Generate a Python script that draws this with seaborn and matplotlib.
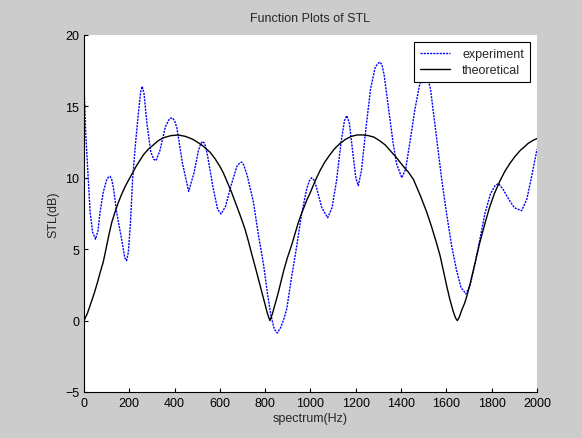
import numpy as np
import pandas as pd
import matplotlib
matplotlib.use("Agg")
import matplotlib.pyplot as plt
import seaborn as sns

# values
exp_freq = [0, 8, 19, 27, 38, 51, 62, 71, 85, 100, 108, 115, 122, 130, 144, 166, 180, 188,
            196, 205, 215, 228, 240, 250, 257, 265, 278, 295, 308, 318, 335, 360, 378,
            390, 400, 410, 435, 462, 485, 505, 516, 524, 533, 545, 570, 590, 605, 625,
            650, 675, 688, 696, 705, 720, 748, 770, 792, 810, 825, 840, 853, 868, 880,
            895, 915, 939, 960, 983, 995, 1005, 1015, 1025, 1050, 1076, 1095, 1115, 1135,
            1150, 1160, 1172, 1185, 1200, 1211, 1225, 1245, 1265, 1285, 1297, 1307, 1316,
            1325, 1345, 1365, 1380, 1403, 1420, 1440, 1460, 1480, 1493, 1505, 1517, 1530,
            1555, 1580, 1601, 1623, 1645, 1665, 1687, 1705, 1725, 1748, 1770, 1795, 1815,
            1830, 1850, 1875, 1900, 1932, 1955, 1975, 2000]
exp_stl = [16.5, 13.0, 9.9, 7.6, 6.2, 5.7, 6.3, 7.6, 9.0, 9.85, 10.05, 10.1, 9.9, 9.3,
           7.6, 5.7, 4.4, 4.2, 4.8, 6.8, 10.0, 12.5, 14.5, 16.0, 16.4, 15.9, 13.8, 11.8,
           11.3, 11.2, 11.9, 13.6, 14.15, 14.2, 14.0, 13.5, 11.0, 9.05, 10.3, 11.9, 12.4,
           12.55, 12.4, 11.6, 9.3, 7.8, 7.47, 8.0, 9.5, 10.8, 11.05, 11.1, 10.9, 10.2,
           8.3, 6.0, 4.0, 1.9, 0.4, -0.6, -0.87, -0.5, 0.0, 0.8, 2.9, 5.2, 7.4, 9.2, 9.8,
           10.0, 9.85, 9.4, 7.9, 7.2, 7.9, 9.8, 12.5, 14.0, 14.35, 13.8, 12.0, 10.0, 9.45,
           10.5, 13.5, 16.2, 17.7, 18.0, 18.1, 17.9, 17.2, 14.8, 12.4, 10.97, 10.0, 10.6,
           12.6, 14.7, 16.4, 17.05, 17.3, 17.0, 16.2, 13.0, 9.8, 7.47, 5.25, 3.5, 2.3,
           1.86, 2.5, 3.9, 5.7, 7.5, 8.9, 9.45, 9.6, 9.2, 8.5, 7.9, 7.7, 8.5, 10.0, 12.0]

theo_freq = [0, 15, 30, 45, 60, 72, 85, 97, 110, 123, 137, 150, 165, 182, 199, 215, 230,
             246, 262, 284, 306, 328, 350, 383, 416, 448, 480, 500, 520, 538, 556, 578,
             600, 615, 630, 650, 670, 690, 711, 726, 740, 751, 762, 776, 790, 800, 808,
             815, 821, 828, 834, 840, 850, 860, 870, 880, 898, 917, 931, 945, 956, 968,
             984, 1000, 1021, 1042, 1063, 1085, 1107, 1130, 1155, 1180, 1206, 1233, 1256,
             1280, 1305, 1330, 1355, 1380, 1410, 1432, 1454, 1485, 1513, 1535, 1555,
             1572, 1588, 1601, 1615, 1630, 1640, 1648, 1656, 1668, 1680, 1690, 1705,
             1720, 1734, 1748, 1770, 1790, 1812, 1837, 1858, 1880, 1903, 1925, 1943,
             1960, 1980, 2000]
theo_stl = [0.0, 0.5, 1.2, 1.9, 2.7, 3.4, 4.1, 5.0, 6.0, 6.9, 7.6, 8.2, 8.8, 9.4, 9.9,
            10.35, 10.8, 11.2, 11.6, 12.0, 12.3, 12.6, 12.8, 12.95, 13.0, 12.9, 12.7,
            12.5, 12.3, 12.05, 11.8, 11.35, 10.8, 10.35, 9.8, 9.05, 8.2, 7.35, 6.4, 5.55,
            4.7, 4.05, 3.4, 2.55, 1.7, 1.1, 0.6, 0.25, 0.0, 0.3, 0.6, 0.95, 1.5, 2.1,
            2.75, 3.4, 4.4, 5.3, 6.05, 6.8, 7.3, 7.8, 8.45, 9.0, 9.8, 10.5, 11.1, 11.6,
            12.05, 12.4, 12.7, 12.9, 13.0, 13.0, 12.95, 12.85, 12.6, 12.3, 11.85, 11.4,
            10.8, 10.4, 9.9, 8.75, 7.6, 6.55, 5.5, 4.55, 3.4, 2.45, 1.5, 0.65, 0.2, 0.0,
            0.2, 0.75, 1.2, 1.7, 2.6, 3.6, 4.55, 5.5, 6.8, 7.9, 8.9, 9.8, 10.45, 11.0,
            11.5, 11.9, 12.15, 12.4, 12.6, 12.75]

x_ticks = list(range(0, 2001, 200))
y_ticks = [-5, 0, 5, 10, 15, 20]

sns.set_style("ticks")
plt.rcParams['font.family'] = ['Liberation Sans', 'DejaVu Sans']
plt.rcParams['xtick.direction'] = 'in'
plt.rcParams['ytick.direction'] = 'in'

fig = plt.figure(figsize=(5.82, 4.39), dpi=100, facecolor='#cccccc')
ax = fig.add_axes([0.1443, 0.1048, 0.7784, 0.8132])
ax.set_facecolor('white')

exp_df = pd.DataFrame({'f': exp_freq, 'stl': exp_stl})
theo_df = pd.DataFrame({'f': theo_freq, 'stl': theo_stl})

sns.lineplot(data=exp_df, x='f', y='stl', ax=ax, color='#0000ff', linewidth=1.0,
             linestyle=(0, (1.5, 0.8)), label='experiment', sort=False)
sns.lineplot(data=theo_df, x='f', y='stl', ax=ax, color='black', linewidth=1.0,
             label='theoretical', sort=False)

ax.set_xlim(0, 2000)
ax.set_ylim(-5, 20)
ax.set_xticks(x_ticks)
ax.set_yticks(y_ticks)
ax.tick_params(labelsize=9, length=3, width=0.8, color='black', labelcolor='black')
for s in ['top', 'right']:
    ax.spines[s].set_visible(False)
for s in ['left', 'bottom']:
    ax.spines[s].set_color('black')
    ax.spines[s].set_linewidth(0.8)

ax.set_xlabel('spectrum(Hz)', fontsize=9, labelpad=2)
ax.set_ylabel('STL(dB)', fontsize=9, labelpad=4)
ax.set_title('Function Plots of STL', fontsize=9, pad=10)

leg = ax.legend(loc='upper right', fontsize=9, frameon=True, fancybox=False,
                edgecolor='black', framealpha=1, borderaxespad=0.6,
                handlelength=2.4, handletextpad=1.0, borderpad=0.45,
                labelspacing=0.35)
leg.get_frame().set_linewidth(0.8)

fig.savefig('out.png', dpi=100, facecolor=fig.get_facecolor())
